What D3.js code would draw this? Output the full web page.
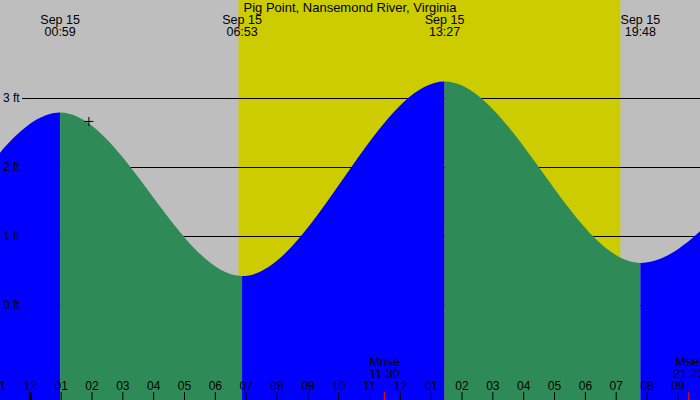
<!DOCTYPE html>
<html>
<head>
<meta charset="utf-8">
<script src="https://cdn.jsdelivr.net/npm/d3@7"></script>
<style>
  body { margin: 0; background: #fff; }
  svg { display: block; font-family: "Liberation Sans", Arial, sans-serif; }
</style>
</head>
<body>
<svg id="chart"></svg>
<script>
// tide extremes (off-screen ones keep the curve shape at the edges)
const tideTimes = ['09-14 12:30', '09-14 18:42', '09-15 00:59', '09-15 06:53', '09-15 13:27', '09-15 19:48', '09-16 02:06', '09-16 08:20'];
const tideHeights = [2.9, 0.25, 2.79, 0.42, 3.24, 0.61, 2.65, 0.5];

// visible time window
const timeRange = ['09-14 23:02', '09-15 21:44'];

// sun and moon
const sunTimes = ['09-15 06:46', '09-15 19:09'];
const moonNames = ['Mrise', 'Mset'];
const moonTimes = ['09-15 11:30', '09-15 21:22'];

// height ticks (ft)
const feetTicks = [0, 1, 2, 3];

// marker
const markTime = '09-15 01:55';
const markHeight = 2.66;

const title = 'Pig Point, Nansemond River, Virginia';

const width = 700;
const height = 400;

const parse = d3.timeParse('%m-%d %H:%M');
const fmtDay = d3.timeFormat('%b %d');
const fmtTime = d3.timeFormat('%H:%M');
const fmtHour = d3.timeFormat('%I');

const tide = tideTimes.map((t, i) => ({ time: parse(t), h: tideHeights[i] }));
const [t0, t1] = timeRange.map(parse);

const svg = d3.select('#chart')
  .attr('width', width)
  .attr('height', height);

const x = d3.scaleTime().domain([t0, t1]).range([0, width]);
const y = d3.scaleLinear().domain([0, 3]).range([305, 98]);

// background (night)
svg.append('rect')
  .attr('width', width)
  .attr('height', height)
  .attr('fill', '#bebebe');

// daylight
const [sunrise, sunset] = sunTimes.map(parse);
svg.append('rect')
  .attr('x', x(sunrise))
  .attr('y', 0)
  .attr('width', x(sunset) - x(sunrise))
  .attr('height', height)
  .attr('fill', '#cccc00');

// grid lines (behind the water)
svg.append('g')
  .selectAll('line')
  .data(feetTicks)
  .enter()
  .append('line')
  .attr('x1', 22)
  .attr('x2', width)
  .attr('y1', d => Math.round(y(d)) + 0.5)
  .attr('y2', d => Math.round(y(d)) + 0.5)
  .attr('stroke', '#000')
  .attr('stroke-width', 1);

// water, one clipped piece per rise / fall
const area = d3.area()
  .x(d => x(d.time))
  .y0(height)
  .y1(d => y(d.h))
  .curve(d3.curveMonotoneX);

const defs = svg.append('defs');
const water = svg.append('g');

tide.slice(0, -1).forEach((d, i) => {
  const next = tide[i + 1];
  const id = 'seg' + i;
  defs.append('clipPath')
    .attr('id', id)
    .append('rect')
    .attr('x', x(d.time))
    .attr('y', 0)
    .attr('width', x(next.time) - x(d.time))
    .attr('height', height);

  water.append('path')
    .datum(tide)
    .attr('d', area)
    .attr('clip-path', `url(#${id})`)
    .attr('fill', next.h > d.h ? '#0000ff' : '#2e8b57');
});

// height labels
const yAxis = svg.append('g')
  .call(d3.axisRight(y).tickValues(feetTicks).tickSize(0).tickPadding(3).tickFormat(d => d + ' ft'));
yAxis.select('.domain').remove();
yAxis.selectAll('text')
  .style('font-size', '12px')
  .style('font-family', '"Liberation Sans", Arial, sans-serif')
  .attr('fill', '#000');

// title
svg.append('text')
  .attr('x', width / 2)
  .attr('y', 12)
  .attr('text-anchor', 'middle')
  .style('font-size', '13px')
  .text(title);

// high / low labels
const shown = tide.filter(d => d.time >= t0 && d.time <= t1);
const ev = svg.append('g')
  .selectAll('g')
  .data(shown)
  .enter()
  .append('g')
  .attr('transform', d => `translate(${x(d.time)},0)`);

ev.append('text')
  .attr('y', 24)
  .attr('text-anchor', 'middle')
  .style('font-size', '12.5px')
  .text(d => fmtDay(d.time));

ev.append('text')
  .attr('y', 36)
  .attr('text-anchor', 'middle')
  .style('font-size', '12.5px')
  .text(d => fmtTime(d.time));

// hour axis along the bottom (first tick sits just off the left edge)
const hours = d3.timeHour.range(d3.timeHour.floor(t0), t1);
const xAxis = svg.append('g')
  .attr('transform', `translate(0,${height})`)
  .call(d3.axisTop(x)
    .tickValues(hours)
    .tickSize(8)
    .tickPadding(2)
    .tickFormat(fmtHour));
xAxis.select('.domain').remove();
xAxis.selectAll('line')
  .attr('stroke', '#000')
  .attr('stroke-width', d => d.getHours() === 0 ? 3 : 1);
xAxis.selectAll('text')
  .style('font-size', '12px')
  .style('font-family', '"Liberation Sans", Arial, sans-serif')
  .attr('fill', '#000');

// moon rise / set
const moon = moonTimes.map((t, i) => ({ name: moonNames[i], time: parse(t) }));
const mg = svg.append('g')
  .selectAll('g')
  .data(moon)
  .enter()
  .append('g')
  .attr('transform', d => `translate(${x(d.time)},0)`);

mg.append('line')
  .attr('y1', 392)
  .attr('y2', height)
  .attr('stroke', '#ff0000')
  .attr('stroke-width', 1);

mg.append('text')
  .attr('y', 366)
  .attr('text-anchor', 'middle')
  .style('font-size', '12.5px')
  .text(d => d.name);

mg.append('text')
  .attr('y', 378)
  .attr('text-anchor', 'middle')
  .style('font-size', '12.5px')
  .text(d => fmtTime(d.time));

// marker
svg.append('path')
  .attr('transform', `translate(${x(parse(markTime))},${y(markHeight)})`)
  .attr('d', 'M-4.5,0H4.5M0,-4.5V4.5')
  .attr('stroke', '#000')
  .attr('stroke-width', 1);
</script>
</body>
</html>
